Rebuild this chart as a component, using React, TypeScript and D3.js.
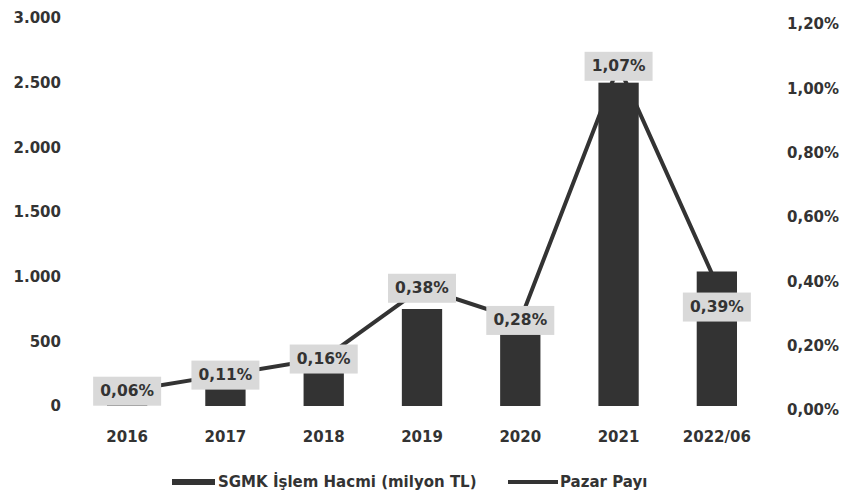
import React from "react";
import * as d3 from "d3";

const categories = ["2016", "2017", "2018", "2019", "2020", "2021", "2022/06"];
const volumes = [35, 150, 265, 750, 575, 2500, 1040];
const shares = [0.06, 0.11, 0.16, 0.38, 0.28, 1.07, 0.39];
const shareLabels = ["0,06%", "0,11%", "0,16%", "0,38%", "0,28%", "1,07%", "0,39%"];
const leftTicks = [0, 500, 1000, 1500, 2000, 2500, 3000];
const leftTickLabels = ["0", "500", "1.000", "1.500", "2.000", "2.500", "3.000"];
const rightTicks = [0, 0.2, 0.4, 0.6, 0.8, 1.0, 1.2];
const rightTickLabels = ["0,00%", "0,20%", "0,40%", "0,60%", "0,80%", "1,00%", "1,20%"];
const legendBar = "SGMK İşlem Hacmi (milyon TL)";
const legendLine = "Pazar Payı";

const W = 842;
const H = 503;
const FONT = "'DejaVu Sans', Verdana, sans-serif";
const DARK = "#333333";

export default function App() {
  const x = d3.scaleBand<string>().domain(categories).range([78, 766]).paddingInner(0.59).paddingOuter(0.295);
  const yL = d3.scaleLinear().domain([0, 3000]).range([406, 18]);
  const yR = d3.scaleLinear().domain([0, 1.2]).range([410, 24]);
  const cx = (c: string) => (x(c) as number) + x.bandwidth() / 2;

  const line = d3
    .line<number>()
    .x((_, i) => cx(categories[i]))
    .y((d) => yR(d));

  const labelOffset = (i: number) => (i === 6 ? 22 : 0);

  return (
    <svg width={W} height={H} style={{ position: "absolute", left: 0, top: 0, background: "#fff" }}>
      <rect x={0} y={0} width={W} height={H} fill="#fff" />
      {leftTicks.map((t, i) => (
        <text key={"l" + i} x={61} y={yL(t)} dy="0.35em" textAnchor="end" fontFamily={FONT} fontWeight="bold" fontSize={15} fill={DARK}>
          {leftTickLabels[i]}
        </text>
      ))}
      {rightTicks.map((t, i) => (
        <text key={"r" + i} x={787} y={yR(t)} dy="0.35em" textAnchor="start" fontFamily={FONT} fontWeight="bold" fontSize={15} fill={DARK}>
          {rightTickLabels[i]}
        </text>
      ))}
      <path d={line(shares) || ""} fill="none" stroke={DARK} strokeWidth={4} strokeLinejoin="round" />
      {volumes.map((v, i) => (
        <rect key={"b" + i} x={x(categories[i]) as number} y={yL(v)} width={x.bandwidth()} height={yL(0) - yL(v)} fill={DARK} />
      ))}
      {shares.map((s, i) => {
        const px = cx(categories[i]);
        const py = yR(s) + labelOffset(i);
        return (
          <g key={"dl" + i}>
            <rect x={px - 34} y={py - 14} width={68} height={29} fill="#d9d9d9" />
            <text x={px} y={py} dy="0.35em" textAnchor="middle" fontFamily={FONT} fontWeight="bold" fontSize={15.5} fill={DARK}>
              {shareLabels[i]}
            </text>
          </g>
        );
      })}
      {categories.map((c, i) => (
        <text key={"x" + i} x={cx(c)} y={437} dy="0.35em" textAnchor="middle" fontFamily={FONT} fontWeight="bold" fontSize={15} fill={DARK}>
          {c}
        </text>
      ))}
      <rect x={172} y={479} width={43} height={6} fill={DARK} />
      <text x={218} y={482} dy="0.35em" fontFamily={FONT} fontWeight="bold" fontSize={15} fill={DARK}>
        {legendBar}
      </text>
      <line x1={508} x2={558} y1={482} y2={482} stroke={DARK} strokeWidth={4} />
      <text x={560} y={482} dy="0.35em" fontFamily={FONT} fontWeight="bold" fontSize={15} fill={DARK}>
        {legendLine}
      </text>
    </svg>
  );
}
